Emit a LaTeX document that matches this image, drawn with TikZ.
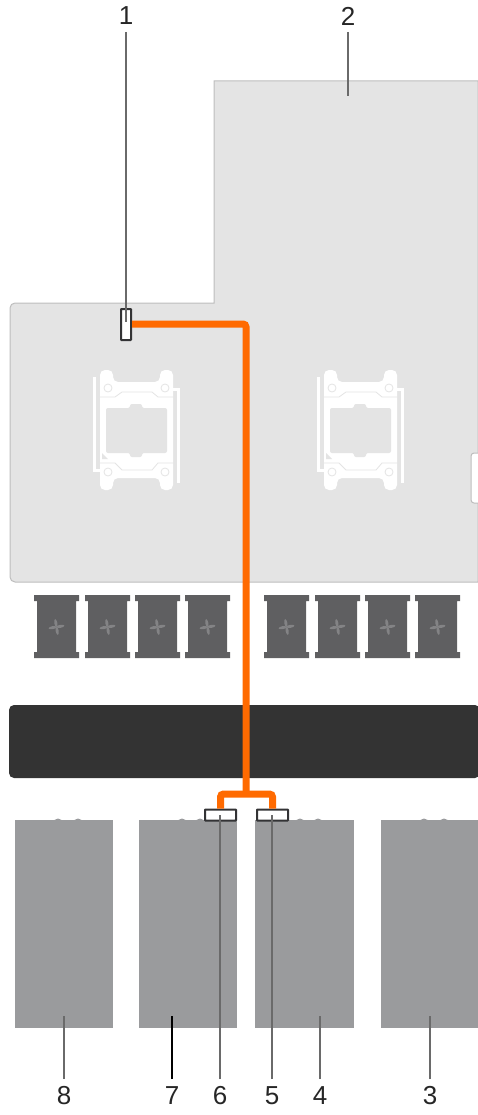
\documentclass[tikz,border=0pt]{standalone}
\usepackage{fontspec}
\setmainfont{Liberation Sans}
\definecolor{boardfill}{HTML}{E4E4E4}
\definecolor{boardline}{HTML}{BDBDBD}
\definecolor{fanfill}{HTML}{5F5F61}
\definecolor{fanblade}{HTML}{838385}
\definecolor{barfill}{HTML}{333333}
\definecolor{bayfill}{HTML}{9A9B9D}
\definecolor{cable}{HTML}{FF6A00}
\definecolor{connline}{HTML}{333335}
\definecolor{leaderc}{HTML}{6A6A6A}
\tikzset{
  x=1pt,y=-1pt,
  numlabel/.style={inner sep=0pt,font=\fontsize{26}{26}\selectfont,text=black!85},
  connbox/.style={draw=connline,fill=white,line width=2pt,inner sep=0pt,rounded corners=0.6pt},
  cablerun/.style={draw=cable,line width=7pt,rounded corners=3pt},
  leader/.style={draw=leaderc,line width=1.9pt},
  bay/.style={fill=bayfill,draw=none,inner sep=0pt,minimum width=#1,minimum height=208pt},
  sockline/.style={draw=boardfill,line width=0.8pt},
}
\newcommand{\cpusocket}{%
  \fill[white,rounded corners=5pt] (100,400) -- (100,370) -- (113,370) -- (113,382) -- (160,382) -- (160,370) -- (173,370) -- (173,490) -- (160,490) -- (160,478) -- (113,478) -- (113,490) -- (100,490) -- cycle;
  \fill[white] (93,377) rectangle (96,472);
  \fill[white] (93,469) rectangle (101,472);
  \fill[white] (177,388) rectangle (180,483);
  \fill[white] (172,388) rectangle (180,391);
  \draw[sockline] (100,397) -- (115,397) -- (122,392) -- (152,392) -- (158,397) -- (173,397);
  \draw[sockline] (100,463) -- (115,463) -- (122,470) -- (152,470) -- (158,463) -- (173,463);
  \fill[boardfill,rounded corners=2pt] (106,408) -- (130,408) -- (130,404) -- (142,404) -- (142,408) -- (167,408) -- (167,453) -- (142,453) -- (142,457) -- (130,457) -- (130,453) -- (106,453) -- cycle;
  \fill[boardfill] (102,453) -- (102,459) -- (108,459) -- cycle;
  \foreach \hx/\hy in {108/388,165/388,108/472,165/472}
    \draw[boardfill,line width=0.8pt] (\hx,\hy) circle[radius=4pt];
}
\newcommand{\fanunit}[1]{%
  \begin{scope}[xshift=#1 pt]
    \fill[fanfill] (34,595) -- (79,595) -- (79,601) -- (76,601) -- (76,652) -- (79,652) -- (79,658) -- (34,658) -- (34,652) -- (37,652) -- (37,601) -- (34,601) -- cycle;
    \foreach \ang in {10,100,190,280}
      \fill[fanblade,rotate around={\ang:(56.5,627)}] (60.5,627) ellipse[x radius=4pt,y radius=1.5pt];
  \end{scope}%
}
\begin{document}
\begin{tikzpicture}
\useasboundingbox (0,0) rectangle (477,1115);
% system board
\filldraw[fill=boardfill,draw=boardline,line width=1pt,rounded corners=5pt]
  (478,582) -- (10,582) -- (10,303) [sharp corners] -- (214,303) -- (214,81) -- (478,81) -- cycle;
\cpusocket
\begin{scope}[xshift=224pt]\cpusocket\end{scope}
\fill[white,draw=boardline,line width=1pt,rounded corners=3pt] (478,453) -- (471,453) -- (471,503) -- (478,503);
% fans
\foreach \fx in {0,51,101,151,230,281,331,381} {\fanunit{\fx}}
% bar
\fill[barfill,rounded corners=5pt] (480,705) -- (9,705) -- (9,778) -- (480,778) -- cycle;
% bays
\foreach \bx in {58,78,182,200,300,318,424,444}
  \fill[bayfill] (\bx,824) circle[radius=5.5pt];
\node[bay=98pt] (bay8) at (64,924) {};
\node[bay=98pt] (bay7) at (188,924) {};
\node[bay=99pt] (bay4) at (304.5,924) {};
\node[bay=98pt] (bay3) at (430,924) {};
% connectors
\node[connbox,minimum width=10pt,minimum height=31pt] (conn1) at (126,324.5) {};
\node[connbox,minimum width=31pt,minimum height=11pt] (conn6) at (220.5,815) {};
\node[connbox,minimum width=31pt,minimum height=11pt] (conn5) at (272.5,815) {};
\coordinate (trunkturn) at (246,324);
\coordinate (split) at (246,794);
% cables
\draw[cablerun] (conn1.east |- trunkturn) -- (trunkturn) -- (split);
\draw[cablerun] (conn6.north) -- (conn6.north |- split) -- (conn5.north |- split) -- (conn5.north);
% labels
\node[numlabel] (n1) at (126,16) {1};
\node[numlabel] (n2) at (348,16) {2};
\node[numlabel] (n3) at (430,1096) {3};
\node[numlabel] (n4) at (320,1096) {4};
\node[numlabel] (n5) at (272,1096) {5};
\node[numlabel] (n6) at (220,1096) {6};
\node[numlabel] (n7) at (172,1096) {7};
\node[numlabel] (n8) at (64,1096) {8};
% leader tips
\coordinate (t1) at (126,322);
\coordinate (t2) at (348,96);
\coordinate (t3) at (430,1016);
\coordinate (t4) at (320,1016);
\coordinate (t5) at (272,815);
\coordinate (t6) at (220,815);
\coordinate (t7) at (172,1016);
\coordinate (t8) at (64,1016);
\draw[leader] (n1.north |- 0,32) -- (t1);
\draw[leader] (n2.north |- 0,32) -- (t2);
\draw[leader] (n3.south |- 0,1079) -- (t3);
\draw[leader] (n4.south |- 0,1079) -- (t4);
\draw[leader] (n5.south |- 0,1079) -- (t5);
\draw[leader] (n6.south |- 0,1079) -- (t6);
\draw[leader,draw=black,line width=1.3pt] (n7.south |- 0,1079) -- (t7);
\draw[leader] (n8.south |- 0,1079) -- (t8);
\end{tikzpicture}
\end{document}
